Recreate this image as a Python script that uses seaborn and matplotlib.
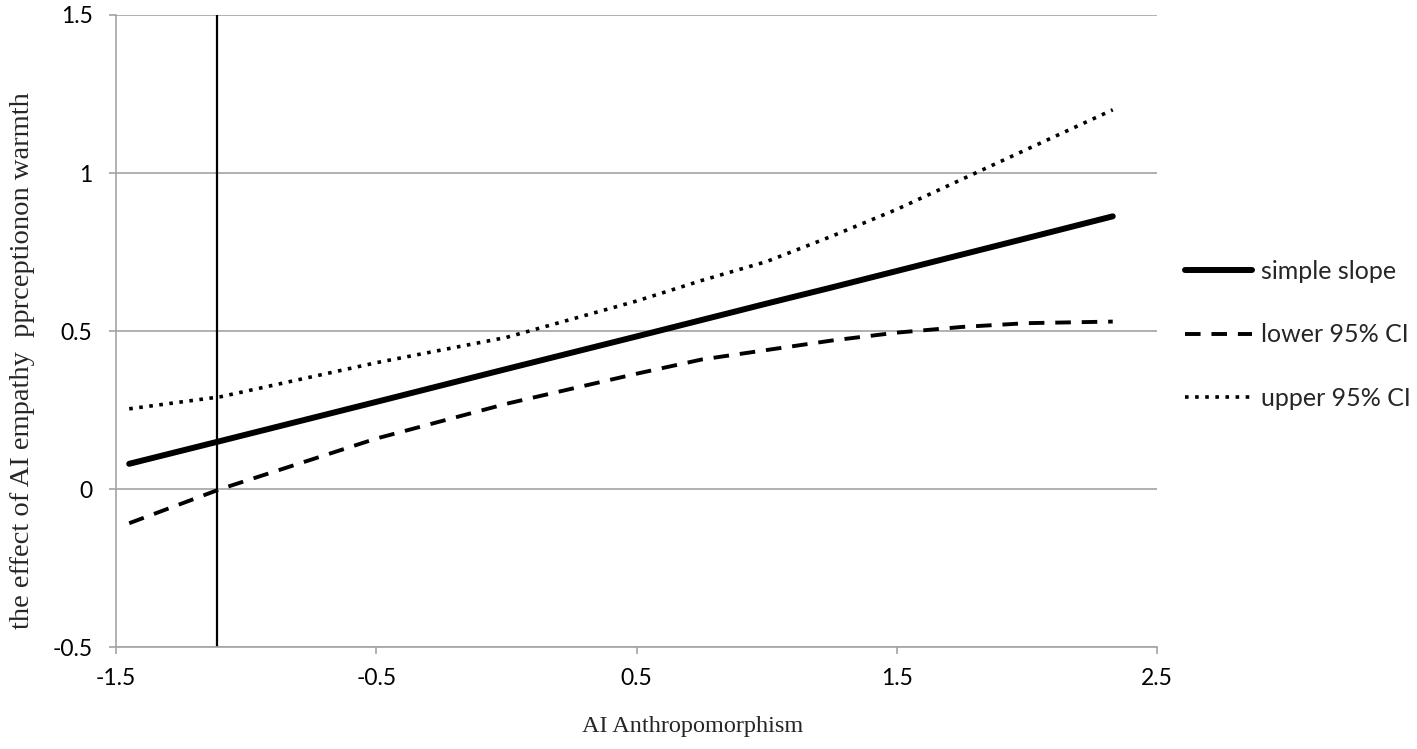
import matplotlib
matplotlib.use("Agg")
from matplotlib import pyplot as plt
import pandas as pd
import seaborn as sns

sns.set_theme(style="white")

# values
anthro = [-1.45, -1.1, -0.5, 0.0, 0.5, 0.75, 1.0, 1.25, 1.5, 1.75, 2.0, 2.33]
simple_slope = [0.080, 0.152, 0.276, 0.380, 0.483, 0.535, 0.587, 0.638,
                0.690, 0.742, 0.794, 0.863]
lower_ci = [-0.108, 0.0, 0.16, 0.27, 0.365, 0.41, 0.44, 0.47, 0.495,
            0.513, 0.525, 0.53]
upper_ci = [0.254, 0.292, 0.40, 0.48, 0.595, 0.66, 0.72, 0.80, 0.885,
            0.98, 1.075, 1.20]
jn_point = -1.112

x_ticks = [-1.5, -0.5, 0.5, 1.5, 2.5]
y_ticks = [-0.5, 0, 0.5, 1, 1.5]
x_tick_labels = ["-1.5", "-0.5", "0.5", "1.5", "2.5"]
y_tick_labels = ["-0.5", "0", "0.5", "1", "1.5"]

grid_grey = "#a3a3a3"
tick_font = {"family": ["Lato", "DejaVu Sans"], "size": 16.5}


def main():
    df = pd.DataFrame({"x": anthro, "slope": simple_slope,
                       "lower": lower_ci, "upper": upper_ci})

    fig = plt.figure(figsize=(14.17, 7.49), dpi=100)
    ax = fig.add_axes([0.082, 0.136, 0.7345, 0.844])

    sns.lineplot(data=df, x="x", y="slope", ax=ax, color="black",
                 lw=4.3, solid_capstyle="round", label="simple slope")
    sns.lineplot(data=df, x="x", y="lower", ax=ax, color="black",
                 lw=2.8, dashes=(4, 2.8), dash_capstyle="butt",
                 label="lower 95% CI")
    sns.lineplot(data=df, x="x", y="upper", ax=ax, color="black",
                 lw=2.6, dashes=(1, 1.8), dash_capstyle="butt",
                 label="upper 95% CI")
    ax.axvline(jn_point, color="black", lw=1.6, zorder=1)

    ax.set_xlim(-1.5, 2.5)
    ax.set_ylim(-0.5, 1.5)
    ax.set_xticks(x_ticks)
    ax.set_xticklabels(x_tick_labels, fontdict=tick_font)
    ax.set_yticks(y_ticks)
    ax.set_yticklabels(y_tick_labels, fontdict=tick_font)

    ax.yaxis.grid(True, color=grid_grey, lw=1.2)
    ax.xaxis.grid(False)
    ax.set_axisbelow(True)
    for side in ["top", "right"]:
        ax.spines[side].set_visible(False)
    for side in ["left", "bottom"]:
        ax.spines[side].set_color(grid_grey)
        ax.spines[side].set_linewidth(1.2)

    ax.tick_params(axis="both", which="major", direction="out", length=5,
                   width=1.2, color=grid_grey, labelcolor="black",
                   left=True, bottom=True)
    ax.tick_params(axis="x", pad=10)
    ax.tick_params(axis="y", pad=12)

    ax.set_xlabel("AI Anthropomorphism", family=["Liberation Serif"],
                  fontsize=17.5, va="center")
    ax.xaxis.set_label_coords(0.554, -0.125)
    ax.set_ylabel("the effect of AI empathy  pprceptionon warmth",
                  family=["Liberation Serif"], fontsize=20.5, va="center")
    ax.yaxis.set_label_coords(-0.090, 0.453)

    handles, labels = ax.get_legend_handles_labels()
    ax.get_legend().remove()
    fig.legend(handles, labels, loc="center left",
               bbox_to_anchor=(0.836, 0.553), frameon=False,
               prop={"family": ["Lato", "DejaVu Sans"], "size": 18},
               handlelength=2.7, handletextpad=0.36, labelspacing=1.62,
               borderpad=0, borderaxespad=0)

    fig.savefig("out.png", dpi=100, facecolor="white")


if __name__ == "__main__":
    main()
